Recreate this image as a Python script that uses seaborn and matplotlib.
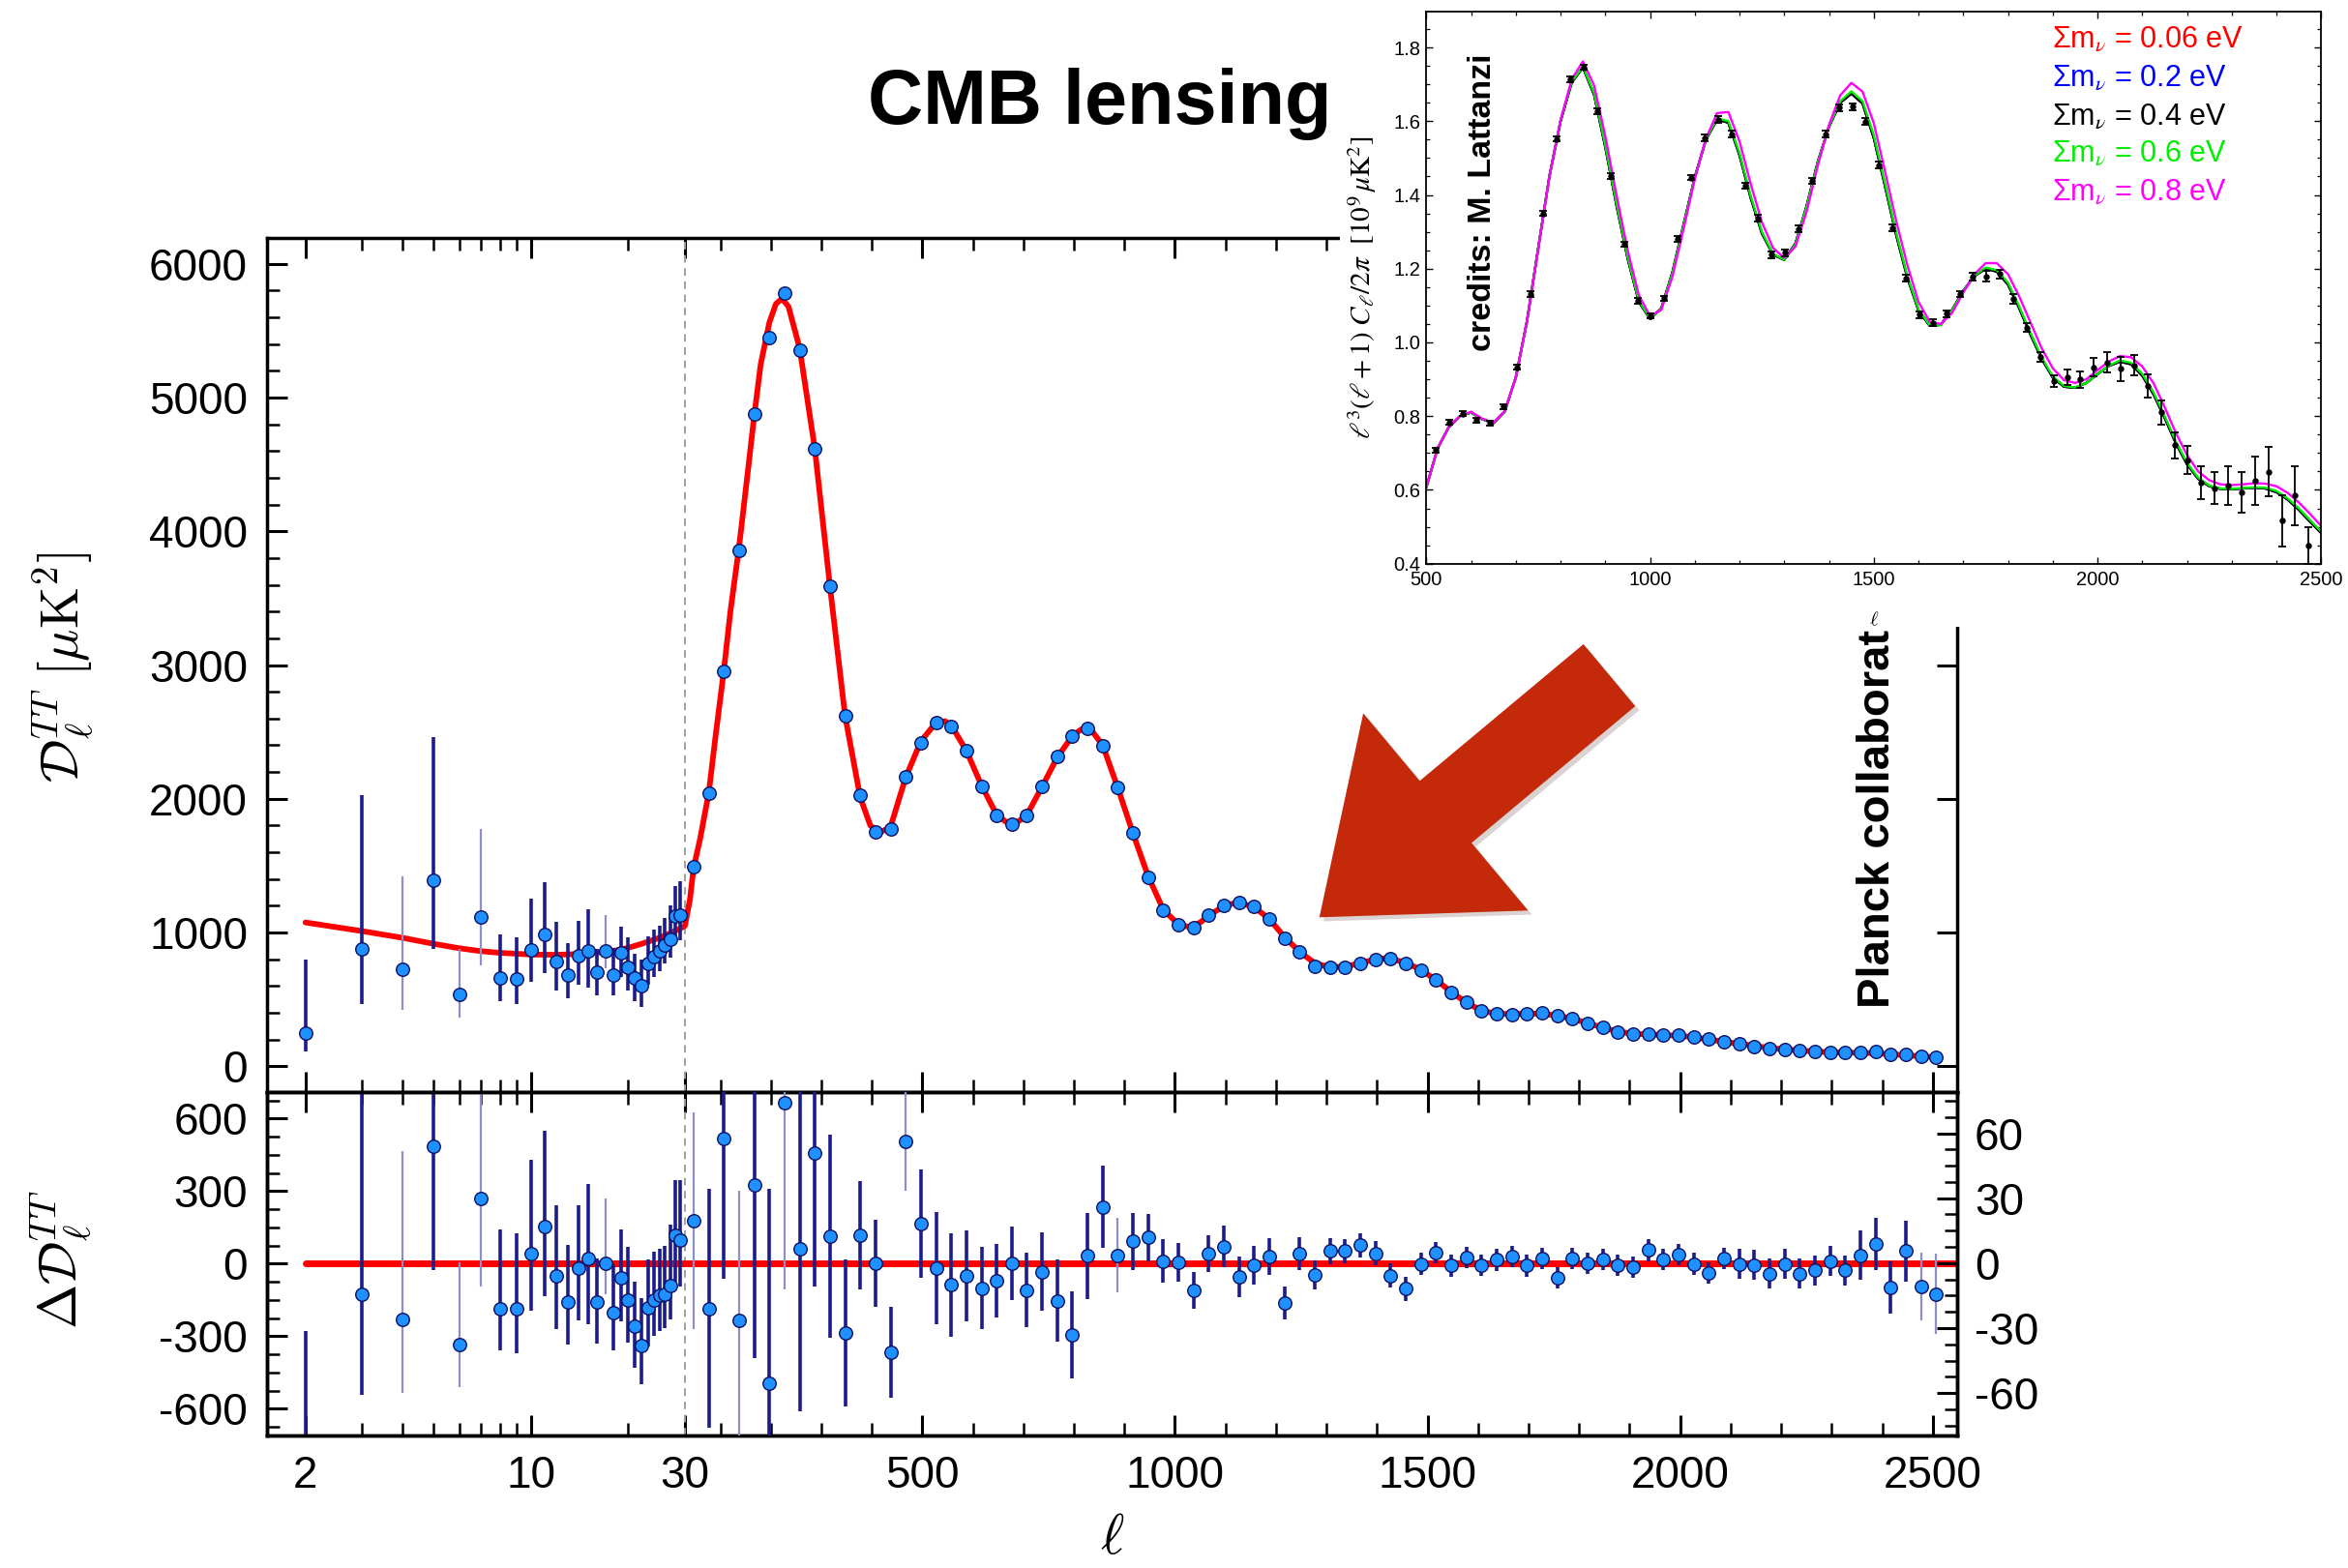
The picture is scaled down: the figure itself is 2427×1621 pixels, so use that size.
import numpy as np
import matplotlib
matplotlib.use('Agg')
import matplotlib.pyplot as plt
import matplotlib.patheffects as pe
from matplotlib.patches import Rectangle, FancyArrow
from matplotlib.ticker import FixedLocator, MultipleLocator, NullFormatter, FormatStrFormatter
import seaborn as sns

sns.set_style('ticks')
plt.rcParams['font.family'] = ['Liberation Sans', 'DejaVu Sans']
plt.rcParams['mathtext.fontset'] = 'cm'
plt.rcParams['axes.unicode_minus'] = False
for key in ('text.color', 'axes.labelcolor', 'xtick.color', 'ytick.color', 'axes.edgecolor'):
    plt.rcParams[key] = 'black'

# ---------------- data ----------------
# low-l points (l = 2..29), D_l in muK^2 and asymmetric errors
ell_low = list(range(2, 30))
dl_low = [245, 880, 726, 1391, 540, 1117, 660, 650, 868, 984, 785, 682, 827, 862,
          702, 862, 682, 848, 743, 660, 602, 769, 819, 860, 909, 950, 1120, 1130]
dl_low_up = [553, 1150, 694, 1067, 340, 658, 326, 313, 386, 394, 291, 238, 261, 308,
             178, 269, 200, 198, 221, 181, 196, 200, 200, 190, 200, 250, 230, 250]
dl_low_dn = [133, 415, 303, 511, 176, 361, 173, 185, 237, 290, 220, 173, 217, 274,
             175, 127, 155, 180, 175, 173, 159, 160, 150, 150, 140, 140, 190, 190]
res_low = [-830, -128, -230, 484, -336, 268, -186, -186, 42, 155, -51, -160, -18, 22,
           -157, 2, -204, -58, -150, -257, -340, -184, -150, -130, -128, -90, 116, 96]
light_low = [4, 6, 7, 17]

# binned high-l points (bins of 30)
ell_bin = np.arange(47, 2508, 30)
dl_bin = [1493, 2042, 2955, 3860, 4877, 5450, 5778, 5355, 4620, 3590,
          2622, 2024, 1750, 1775, 2166, 2419, 2573, 2540, 2357, 2095,
          1876, 1813, 1876, 2095, 2316, 2469, 2523, 2393, 2082, 1742,
          1410, 1169, 1057, 1036, 1128, 1203, 1223, 1194, 1100, 960,
          854, 750, 738, 743, 767, 798, 806, 767, 719, 646,
          549, 477, 411, 392, 387, 392, 399, 375, 356, 322,
          290, 254, 242, 242, 235, 230, 218, 201, 181, 169,
          150, 133, 126, 121, 109, 102, 104, 102, 109, 90,
          85, 73, 65]
res_bin = [19.7, -20.9, 57.7, -26.5, 36, -55.6, 74, 6.6, 51, 12.5,
           -32.2, 13, 0, -41.4, 56.2, 18.2, -2.4, -10.1, -6, -11.6,
           -8.3, 0, -12.4, -3.9, -17.3, -33.2, 3.3, 25.9, 3.7, 10,
           11.9, 1, 0.3, -12.8, 4.5, 7.7, -6.4, -0.9, 3, -18.3,
           4.5, -5.4, 5.5, 5.5, 8.2, 4.5, -5.7, -11.9, -0.4, 4.8,
           -1.2, 2.5, -0.9, 1.5, 3, -1.2, 2.1, -6.9, 2.1, 0,
           1.8, -0.9, -1.9, 6, 1.8, 4, -0.4, -4.5, 2.1, -0.4,
           -0.9, -4.9, -0.4, -4.9, -3.4, 1, -3.4, 3.6, 8.9, -11.3,
           5.5, -10.9, -14.3]
res_bin_err = [50, 55, 65, 60, 80, 90, 86, 75, 62, 47,
               34, 25, 20, 21, 23, 25, 26, 24, 21, 19,
               17, 17, 17, 18, 19, 20, 20, 19, 17, 13,
               11, 10, 9, 8.5, 8.5, 9.7, 9.3, 9, 8.6, 7.5,
               7.5, 6.7, 6, 5.5, 5.5, 5.5, 5.5, 5.5, 5, 5,
               5, 5, 5, 5, 5, 5, 5, 5, 5, 5,
               5, 5, 5, 5, 5, 5, 5, 5, 5, 7,
               7, 7, 7, 7, 7, 7, 7, 11.5, 12, 12,
               14, 15.6, 18.6]
light_bin = [47, 137, 227, 467, 887, 2477, 2507]

# best-fit theory curve
theory_ell = [2, 3, 4, 5, 6, 7, 8, 10, 12, 15, 18, 20, 22, 25, 27, 29, 30,
              40, 47, 60, 77, 90, 107, 120, 137, 150, 167, 180, 197, 210, 222, 235,
              257, 287, 317, 347, 377, 397, 415, 437, 467, 497,
              527, 545, 557, 587, 617, 647, 670, 690, 707, 737,
              767, 797, 815, 835, 857, 887, 917, 947, 977, 1007,
              1030, 1050, 1067, 1097, 1125, 1157, 1187, 1217, 1247, 1277,
              1307, 1337, 1367, 1397, 1420, 1457, 1487, 1517, 1547, 1577,
              1607, 1637, 1667, 1697, 1727, 1757, 1787, 1817, 1847, 1877,
              1907, 1937, 1967, 1997, 2027, 2057, 2087, 2117, 2147, 2177,
              2207, 2237, 2267, 2297, 2327, 2357, 2387, 2417, 2447, 2477, 2507]
theory_dl = [1075, 1010, 960, 915, 882, 860, 848, 835, 833, 842, 862, 885, 915, 960, 995, 1030, 1050,
             1250, 1480, 1700, 2040, 2450, 2960, 3400, 3880, 4300, 4860, 5250, 5560, 5700, 5740, 5680,
             5370, 4620, 3590, 2620, 2010, 1800, 1745, 1790, 2160, 2430,
             2570, 2580, 2550, 2360, 2100, 1880, 1815, 1830, 1880, 2090,
             2310, 2470, 2520, 2510, 2400, 2080, 1740, 1420, 1170, 1060,
             1040, 1075, 1125, 1200, 1225, 1190, 1100, 965, 855, 770,
             740, 745, 770, 800, 808, 775, 720, 645, 555, 475,
             415, 392, 390, 393, 393, 378, 355, 322, 288, 258,
             243, 238, 233, 228, 217, 200, 183, 168, 152, 136,
             126, 118, 110, 104, 102, 100, 97, 90, 82, 74, 66]

# inset: l^3(l+1)C_l/2pi [1e9 muK^2] for several neutrino masses
inset_ell = np.arange(500, 2501, 25)
cl_04 = [0.607, 0.712, 0.770, 0.800, 0.810, 0.792, 0.781, 0.812, 0.905, 1.058,
         1.255, 1.450, 1.600, 1.705, 1.746, 1.672, 1.530, 1.372, 1.228, 1.110,
         1.064, 1.092, 1.190, 1.320, 1.448, 1.550, 1.605, 1.596, 1.508, 1.392,
         1.296, 1.238, 1.224, 1.268, 1.370, 1.490, 1.585, 1.650, 1.675, 1.648,
         1.555, 1.425, 1.292, 1.176, 1.087, 1.045, 1.048, 1.088, 1.140, 1.180,
         1.200, 1.192, 1.157, 1.093, 1.022, 0.956, 0.905, 0.880, 0.877, 0.890,
         0.914, 0.936, 0.948, 0.941, 0.910, 0.860, 0.796, 0.727, 0.670, 0.630,
         0.610, 0.603, 0.602, 0.604, 0.606, 0.604, 0.594, 0.574, 0.546, 0.514,
         0.483]
cl_06 = [0.607, 0.712, 0.770, 0.800, 0.810, 0.792, 0.781, 0.812, 0.905, 1.058,
         1.255, 1.450, 1.602, 1.707, 1.748, 1.676, 1.535, 1.377, 1.232, 1.113,
         1.065, 1.091, 1.188, 1.318, 1.447, 1.551, 1.608, 1.600, 1.513, 1.397,
         1.300, 1.240, 1.224, 1.266, 1.368, 1.489, 1.586, 1.654, 1.681, 1.654,
         1.562, 1.432, 1.298, 1.181, 1.090, 1.046, 1.047, 1.087, 1.139, 1.181,
         1.203, 1.196, 1.162, 1.098, 1.027, 0.960, 0.908, 0.882, 0.878, 0.890,
         0.914, 0.937, 0.951, 0.945, 0.915, 0.865, 0.801, 0.732, 0.674, 0.633,
         0.612, 0.604, 0.603, 0.605, 0.607, 0.606, 0.597, 0.577, 0.550, 0.518,
         0.487]
cl_08 = [0.607, 0.712, 0.770, 0.800, 0.812, 0.793, 0.782, 0.813, 0.905, 1.057,
         1.252, 1.448, 1.603, 1.714, 1.762, 1.697, 1.560, 1.400, 1.250, 1.128,
         1.072, 1.088, 1.178, 1.308, 1.443, 1.553, 1.622, 1.625, 1.545, 1.430,
         1.326, 1.256, 1.229, 1.260, 1.355, 1.480, 1.590, 1.670, 1.704, 1.680,
         1.595, 1.465, 1.330, 1.210, 1.110, 1.056, 1.050, 1.080, 1.135, 1.185,
         1.215, 1.215, 1.185, 1.125, 1.055, 0.985, 0.930, 0.898, 0.890, 0.900,
         0.925, 0.948, 0.963, 0.960, 0.935, 0.890, 0.825, 0.755, 0.695, 0.650,
         0.626, 0.615, 0.613, 0.615, 0.618, 0.617, 0.610, 0.592, 0.566, 0.535,
         0.502]
# the 0.06 and 0.2 eV curves lie under the 0.4 eV one at this resolution
inset_masses = ['0.06', '0.2', '0.4', '0.6', '0.8']
inset_colors = ['#ff0000', '#0000ff', '#000000', '#00ee00', '#ff00ff']
inset_curves = [cl_04, cl_04, cl_04, cl_06, cl_08]

inset_data_ell = np.arange(522, 2473, 30)
inset_data = [0.708, 0.783, 0.807, 0.789, 0.781, 0.826, 0.933, 1.131, 1.350, 1.552,
              1.714, 1.746, 1.627, 1.451, 1.267, 1.113, 1.072, 1.120, 1.281, 1.447,
              1.554, 1.604, 1.565, 1.425, 1.337, 1.238, 1.243, 1.308, 1.438, 1.565,
              1.637, 1.639, 1.599, 1.481, 1.310, 1.174, 1.075, 1.053, 1.078, 1.131,
              1.179, 1.179, 1.185, 1.118, 1.040, 0.960, 0.896, 0.906, 0.899, 0.933,
              0.946, 0.928, 0.938, 0.882, 0.810, 0.721, 0.681, 0.619, 0.605, 0.612,
              0.593, 0.625, 0.649, 0.516, 0.585, 0.449]
inset_err = [0.007] * 20 + [0.009] * 20 + [
    0.010, 0.014, 0.012, 0.012, 0.012, 0.013, 0.016, 0.021, 0.021, 0.024,
    0.027, 0.032, 0.027, 0.032, 0.032, 0.036, 0.037, 0.044, 0.044, 0.053,
    0.056, 0.065, 0.067, 0.070, 0.080, 0.050]

# ---------------- hybrid log / linear l axis ----------------
LIN = 751.2


def fwd(x):
    x = np.asarray(x, float)
    lo = np.log10(np.clip(x, 1e-3, None) / 2.0) / np.log10(15.0)
    hi = 1.0 + (x - 30.0) / LIN
    return np.where(x <= 30, lo, hi)


def inv(y):
    y = np.asarray(y, float)
    lo = 2.0 * 15.0 ** np.minimum(y, 1.0)
    hi = 30.0 + (y - 1.0) * LIN
    return np.where(y <= 1, lo, hi)


XMIN, XMAX = 1.515, 2548

NAVY = '#1c1c8c'
LIGHT = '#8e8ecc'
PT_FACE = '#1e90ff'
PT_EDGE = '#0e0e60'

fig = plt.figure(figsize=(24.27, 16.21), dpi=100)
ax_up = fig.add_axes([0.11352, 0.30339, 0.71994, 0.54497])
ax_lo = fig.add_axes([0.11352, 0.08427, 0.71994, 0.21912])
for ax in (ax_up, ax_lo):
    ax.set_xscale('function', functions=(fwd, inv))
ax_r = ax_lo.twinx()
for ax in (ax_up, ax_lo):
    ax.set_xlim(XMIN, XMAX)

ell_low_a = np.array(ell_low)
is_light = np.isin(ell_low_a, light_low)
up = np.array(dl_low_up)
dn = np.array(dl_low_dn)

# ---- upper panel ----
ax_up.axvline(30, color='#a0a0a0', lw=1.4, ls=(0, (4, 3)), zorder=1)
sns.lineplot(x=theory_ell, y=theory_dl, ax=ax_up, color='#ff0000', lw=4.2,
             sort=False, estimator=None, zorder=2)
for mask, col, lw in ((~is_light, NAVY, 2.6), (is_light, LIGHT, 1.6)):
    ax_up.errorbar(ell_low_a[mask], np.array(dl_low)[mask],
                   yerr=[dn[mask], up[mask]], fmt='none', ecolor=col,
                   elinewidth=lw, capsize=0, zorder=3)
sns.scatterplot(x=ell_low, y=dl_low, ax=ax_up, s=95, color=PT_FACE,
                edgecolor=PT_EDGE, linewidth=1.0, zorder=4)
sns.scatterplot(x=ell_bin, y=dl_bin, ax=ax_up, s=95, color=PT_FACE,
                edgecolor=PT_EDGE, linewidth=1.0, zorder=4)
ax_up.set_ylim(-195, 6195)

# ---- lower panel ----
ax_lo.axvline(30, color='#a0a0a0', lw=1.4, ls=(0, (4, 3)), zorder=1)
x0 = (fwd(2) - fwd(XMIN)) / (fwd(XMAX) - fwd(XMIN))
ax_lo.axhline(0, xmin=float(x0), xmax=1, color='#ff0000', lw=5, zorder=2)
for mask, col, lw in ((~is_light, NAVY, 2.6), (is_light, LIGHT, 1.6)):
    ax_lo.errorbar(ell_low_a[mask], np.array(res_low)[mask],
                   yerr=[dn[mask], up[mask]], fmt='none', ecolor=col,
                   elinewidth=lw, capsize=0, zorder=3)
sns.scatterplot(x=ell_low, y=res_low, ax=ax_lo, s=95, color=PT_FACE,
                edgecolor=PT_EDGE, linewidth=1.0, zorder=4)
ax_lo.set_ylim(-712, 709)

bin_light = np.isin(ell_bin, light_bin)
rb = np.array(res_bin)
rbe = np.array(res_bin_err)
for mask, col, lw in ((~bin_light, NAVY, 2.6), (bin_light, LIGHT, 1.6)):
    ax_r.errorbar(ell_bin[mask], rb[mask], yerr=rbe[mask], fmt='none',
                  ecolor=col, elinewidth=lw, capsize=0, zorder=3)
sns.scatterplot(x=ell_bin, y=res_bin, ax=ax_r, s=95, color=PT_FACE,
                edgecolor=PT_EDGE, linewidth=1.0, zorder=4)
ax_r.set_ylim(-79.8, 78.9)

# ---- ticks / spines main ----
x_major = [2, 10, 30, 500, 1000, 1500, 2000, 2500]
x_minor = [3, 4, 5, 6, 7, 8, 9, 20] + [v for v in range(100, 2500, 100) if v % 500]
for ax in (ax_up, ax_lo):
    ax.xaxis.set_major_locator(FixedLocator(x_major))
    ax.xaxis.set_minor_locator(FixedLocator(x_minor))
    ax.xaxis.set_minor_formatter(NullFormatter())
    ax.set_xticklabels([str(v) for v in x_major])
    ax.tick_params(which='both', direction='in', top=True, color='black',
                   labelcolor='black', labelsize=33, pad=14)
    ax.tick_params(which='major', length=15, width=2.2)
    ax.tick_params(which='minor', length=9.5, width=1.8)
    for s in ax.spines.values():
        s.set_linewidth(2.5)
        s.set_color('black')
    ax.set_xlabel('')
    ax.set_ylabel('')
ax_up.tick_params(right=True, labelbottom=False)
ax_up.yaxis.set_major_locator(MultipleLocator(1000))
ax_up.yaxis.set_minor_locator(MultipleLocator(200))
ax_lo.tick_params(right=False)
ax_lo.yaxis.set_major_locator(FixedLocator([-600, -300, 0, 300, 600]))
ax_lo.yaxis.set_minor_locator(MultipleLocator(75))
ax_r.yaxis.set_major_locator(FixedLocator([-60, -30, 0, 30, 60]))
ax_r.yaxis.set_minor_locator(MultipleLocator(7.5))
ax_r.tick_params(axis='y', which='both', direction='in', right=True, left=False,
                 labelright=True, labelsize=33, pad=13, color='black', labelcolor='black')
ax_r.tick_params(axis='y', which='major', length=15, width=2.2)
ax_r.tick_params(axis='y', which='minor', length=9.5, width=1.8)
for s in ax_r.spines.values():
    s.set_linewidth(2.5)
    s.set_color('black')
ax_r.set_ylabel('')

fig.text(65 / 2427, 1 - 690 / 1621, r'$\mathcal{D}_\ell^{TT}\ [\mu{\rm K}^2]$',
         rotation=90, ha='center', va='center', fontsize=40, math_fontfamily='cm')
fig.text(63 / 2427, 1 - 1302 / 1621, r'$\Delta\mathcal{D}_\ell^{TT}$',
         rotation=90, ha='center', va='center', fontsize=40, math_fontfamily='cm')
fig.text(1150 / 2427, 1 - 1591 / 1621, r'$\ell$', ha='center', va='center',
         fontsize=42, math_fontfamily='cm')

# ---- overlay decorations ----
fig.text(1136.5 / 2427, 1 - 128 / 1621, 'CMB lensing', ha='center', va='baseline',
         fontsize=57, fontweight='bold', color='black', zorder=3)
# the credit runs under the inset box, only this much of it shows
fig.text(1941 / 2427, 1 - 1042 / 1621, 'Planck collaborat', rotation=90,
         ha='center', va='bottom', fontsize=34, fontweight='bold', color='black', zorder=1)
fig.add_artist(Rectangle((1385 / 2427, 1 - 648 / 1621), 1 - 1385 / 2427, 648 / 1621,
                         transform=fig.transFigure, facecolor='white',
                         edgecolor='none', zorder=2))
arrow = FancyArrow(16.635, 9.23, -2.997, -2.503, width=0.835, head_width=2.657,
                   head_length=1.70, length_includes_head=True,
                   transform=fig.dpi_scale_trans, facecolor='#c4290a',
                   edgecolor='none', zorder=4)
arrow.set_path_effects([pe.SimplePatchShadow(offset=(3, -3), alpha=0.18), pe.Normal()])
fig.add_artist(arrow)

# ---- inset ----
ax_in = fig.add_axes([0.60746, 0.64053, 0.38113, 0.35225], zorder=3)
for m, col, cl in zip(inset_masses, inset_colors, inset_curves):
    sns.lineplot(x=inset_ell, y=cl, ax=ax_in, color=col, lw=1.7,
                 sort=False, estimator=None)
ax_in.errorbar(inset_data_ell, inset_data, yerr=inset_err, fmt='o', color='black',
               ms=3.6, capsize=3, elinewidth=1.3, capthick=1.3, zorder=5)
ax_in.set_xlim(500, 2500)
ax_in.set_ylim(0.4, 1.898)
ax_in.xaxis.set_major_locator(MultipleLocator(500))
ax_in.xaxis.set_minor_locator(MultipleLocator(100))
ax_in.yaxis.set_major_locator(MultipleLocator(0.2))
ax_in.yaxis.set_minor_locator(MultipleLocator(0.05))
ax_in.yaxis.set_major_formatter(FormatStrFormatter('%.1f'))
ax_in.tick_params(which='both', direction='in', top=True, right=True,
                  labelsize=14.5, color='black', labelcolor='black')
ax_in.tick_params(axis='x', pad=5)
ax_in.tick_params(axis='y', pad=4)
ax_in.tick_params(which='major', length=5, width=1.0)
ax_in.tick_params(which='minor', length=3, width=0.9)
for s in ax_in.spines.values():
    s.set_linewidth(1.3)
    s.set_color('black')
ax_in.set_xlabel(r'$\ell$', fontsize=15, math_fontfamily='cm')
ax_in.xaxis.set_label_coords(0.5, -0.085)
ax_in.set_ylabel(r'$\ell^3(\ell+1)\ C_\ell/2\pi\ \ [10^9\,\mu{\rm K}^2]$',
                 fontsize=21, math_fontfamily='stix')
ax_in.yaxis.set_label_coords(-0.053, 0.5)
ax_in.text(0.0626, 0.654, 'credits: M. Lattanzi', rotation=90, ha='center',
           va='center', fontsize=24.5, fontweight='bold', transform=ax_in.transAxes)
for i, (m, col) in enumerate(zip(inset_masses, inset_colors)):
    ax_in.text(0.6995, [0.9359, 0.8658, 0.7958, 0.7281, 0.6580][i],
               'Σm$_\\nu$ = %s eV' % m, color=col, fontsize=22, va='baseline',
               transform=ax_in.transAxes, math_fontfamily='stix')

fig.savefig('out.png', dpi=100)
